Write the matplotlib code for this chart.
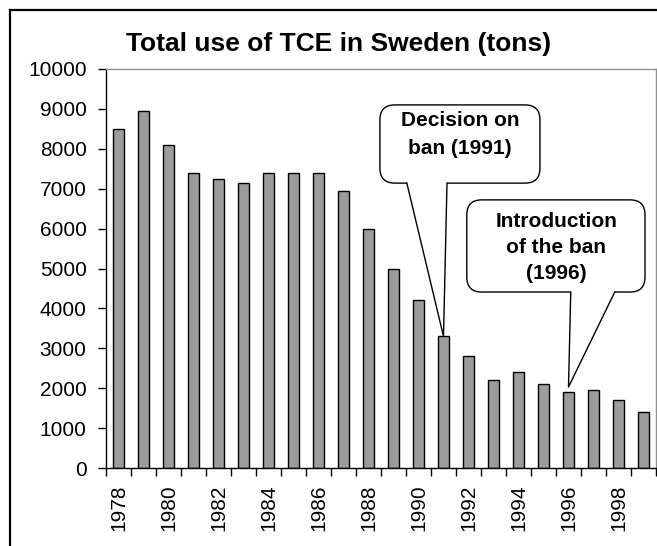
import numpy as np
import matplotlib
matplotlib.use("Agg")
import matplotlib.pyplot as plt
from matplotlib.patches import FancyBboxPatch, Polygon
from matplotlib.lines import Line2D

plt.rcParams['font.family'] = ['Liberation Sans', 'DejaVu Sans']

years = list(range(1978, 2000))
use_tons = [8500, 8950, 8100, 7400, 7250, 7150, 7400, 7400, 7400, 6950,
            6000, 5000, 4200, 3300, 2800, 2200, 2400, 2100, 1900, 1960,
            1700, 1400]
title = "Total use of TCE in Sweden (tons)"
callout1_text = "Decision on\nban (1991)"
callout1_year = 1991
callout2_text = "Introduction\nof the ban\n(1996)"
callout2_year = 1996

W, H = 657, 546
fig = plt.figure(figsize=(W / 100, H / 100), dpi=100)
ax = fig.add_axes([106 / W, (H - 468) / H, 550 / W, 399 / H])

x = np.arange(len(years))
ax.bar(x, use_tons, width=0.42, color="#9c9c9c", edgecolor="black", linewidth=1.0, zorder=2)

ax.set_xlim(-0.5, len(years) - 0.5)
ax.set_ylim(0, 10000)
ax.set_yticks(np.arange(0, 10001, 1000))
ax.tick_params(axis='y', direction='out', length=6, width=1, pad=8, labelsize=15)

lab_idx = [i for i, yv in enumerate(years) if yv % 2 == 0]
ax.set_xticks(lab_idx)
ax.set_xticklabels([str(years[i]) for i in lab_idx], rotation=90)
ax.tick_params(axis='x', which='major', length=0, pad=12, labelsize=15)
ax.set_xticks(np.arange(-0.5, len(years), 1), minor=True)
ax.tick_params(axis='x', which='minor', direction='out', length=6, width=1)

for s in ['left', 'bottom']:
    ax.spines[s].set_color('black')
    ax.spines[s].set_linewidth(1.0)
for s in ['top', 'right']:
    ax.spines[s].set_color('#909090')
    ax.spines[s].set_linewidth(1.0)

fig.text(339 / W, (H - 51) / H, title, ha='center', va='baseline',
         fontsize=19, fontweight='bold')

# outer chart frame
fig.add_artist(Line2D([10 / W, 10 / W], [0, (H - 10) / H], color='black', lw=1.6,
                      transform=fig.transFigure))
fig.add_artist(Line2D([10 / W, 1], [(H - 10) / H, (H - 10) / H], color='black', lw=1.6,
                      transform=fig.transFigure))

aspect = 550 / 399
data_to_axes = ax.transData + ax.transAxes.inverted()


def callout(text, bx0, by0, bx1, by1, px0, px1, tip_xy, tx, ty, ls):
    r = 15 / 550
    box = FancyBboxPatch((bx0, by0), bx1 - bx0, by1 - by0,
                         boxstyle=f"round,pad=0,rounding_size={r}",
                         mutation_aspect=aspect, transform=ax.transAxes,
                         facecolor='white', edgecolor='black', lw=1.0,
                         zorder=5, clip_on=False)
    ax.add_patch(box)
    tip = data_to_axes.transform(tip_xy)
    poly = Polygon([(px0, by0 + 0.004), tuple(tip), (px1, by0 + 0.004)],
                   closed=True, transform=ax.transAxes, facecolor='white',
                   edgecolor='none', zorder=6, clip_on=False)
    ax.add_patch(poly)
    ax.add_line(Line2D([px0, tip[0], px1], [by0, tip[1], by0], color='black', lw=1.0,
                       transform=ax.transAxes, zorder=7, clip_on=False))
    ax.text(tx, ty, text, transform=ax.transAxes, ha='center', va='center',
            fontsize=15, fontweight='bold', linespacing=ls, zorder=8)


i1 = years.index(callout1_year)
callout(callout1_text, 0.498, 0.714, 0.789, 0.910, 0.547, 0.620,
        (i1, use_tons[i1]), 0.644, 0.836, 1.65)
i2 = years.index(callout2_year)
callout(callout2_text, 0.656, 0.441, 0.98, 0.672, 0.845, 0.925,
        (i2, use_tons[i2] + 130), 0.819, 0.553, 1.45)

fig.savefig("out.png", dpi=100)
